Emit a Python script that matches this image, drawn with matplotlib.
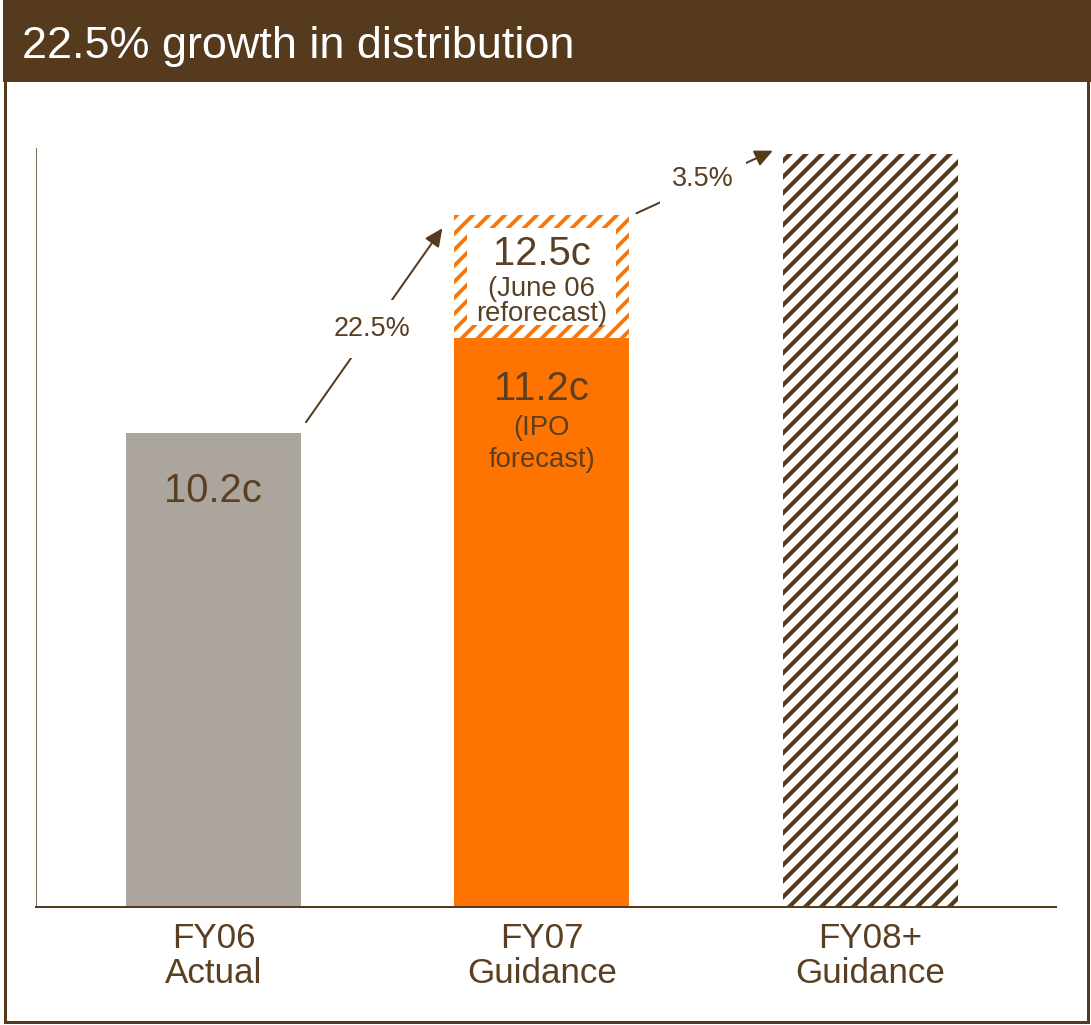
import matplotlib
matplotlib.use('Agg')
import matplotlib.pyplot as plt
import numpy as np
from matplotlib.patches import Rectangle

# ---------------- data ----------------
categories = ['FY06\nActual', 'FY07\nGuidance', 'FY08+\nGuidance']
fy06_actual = 10.2
fy07_ipo = 11.2
fy07_reforecast = 12.5
fy08_guidance = 13.15
value_labels = ['10.2c', '11.2c', '12.5c']
ipo_note = ['(IPO', 'forecast)']
june_note = ['(June 06', 'reforecast)']
growth_labels = ['22.5%', '3.5%']
title = '22.5% growth in distribution'

# ---------------- style ----------------
W, H = 1091, 1025
DPI = 48
S = 72.0 / DPI          # points per pixel
BROWN = '#553A1E'
TXT = '#5A3F22'
GRAY = '#ACA59D'
ORANGE = '#FF7300'

plt.rcParams['font.family'] = ['Liberation Sans', 'DejaVu Sans']
plt.rcParams['hatch.linewidth'] = 3.5 * S

fig = plt.figure(figsize=(W / DPI, H / DPI), dpi=DPI)
fig.patch.set_facecolor('white')


def fx(px):
    return px / W


def fy(py):
    return 1 - py / H


# title bar and frame
fig.patches.append(Rectangle((fx(3), fy(82)), fx(1091) - fx(3), fy(0) - fy(82),
                             transform=fig.transFigure, facecolor=BROWN,
                             edgecolor='none', zorder=0))
fig.patches.append(Rectangle((fx(4.5), fy(1022)), fx(1088) - fx(4.5), fy(80) - fy(1022),
                             transform=fig.transFigure, facecolor='none',
                             edgecolor=BROWN, lw=3 * S, zorder=0))
fig.text(fx(22), fy(58), title, color='white', fontsize=45 * S, va='baseline', ha='left')

ax = fig.add_axes([fx(36), fy(907), fx(1056) - fx(36), fy(148) - fy(907)])
ax.set_facecolor('none')

x = np.arange(len(categories))
w = 0.533

ax.set_xlim(-0.540, 2.565)
ax.set_ylim(5.2, 13.21)

ax.bar(x[0], fy06_actual, w, color=GRAY, lw=0, zorder=1)
ax.bar(x[1], fy07_ipo, w, color=ORANGE, lw=0, zorder=1)
with plt.rc_context({'hatch.linewidth': 3.8 * S}):
    ax.bar(x[1], fy07_reforecast - fy07_ipo, w, bottom=fy07_ipo, facecolor='white',
           edgecolor=ORANGE, lw=0, hatch='/', zorder=1)
# white interior of the reforecast box (13 px hatched frame)
px_per_x = (fx(1056) - fx(36)) * W / (2.565 + 0.540)
px_per_y = (fy(148) - fy(907)) * H / (13.21 - 5.2)
mx = 13 / px_per_x
my = 13 / px_per_y
ax.bar(x[1], fy07_reforecast - fy07_ipo - 2 * my, w - 2 * mx, bottom=fy07_ipo + my,
       facecolor='white', lw=0, zorder=1.5)
with plt.rc_context({'hatch.linewidth': 4.2 * S}):
    ax.bar(x[2], fy08_guidance, w, facecolor='white', edgecolor=BROWN, lw=0,
           hatch='/', zorder=1)

for s in ['top', 'right']:
    ax.spines[s].set_visible(False)
ax.spines['left'].set_color('#7d6a55')
ax.spines['left'].set_linewidth(1.0 * S)
ax.spines['bottom'].set_color(BROWN)
ax.spines['bottom'].set_linewidth(2.0 * S)

ax.set_yticks([])
ax.set_xticks(x)
ax.set_xticklabels(categories, fontsize=35 * S, color=TXT, linespacing=1.06)
ax.tick_params(axis='x', length=0, pad=15 * S)


def bar_text(xc, yv, text, dy, size):
    ax.annotate(text, xy=(xc, yv), xytext=(0, dy), textcoords='offset pixels',
                ha='center', va='baseline', fontsize=size * S, color=TXT, zorder=5)


bar_text(x[0], fy06_actual, value_labels[0], -69, 40)
bar_text(x[1], fy07_ipo, value_labels[1], -62, 40)
bar_text(x[1], fy07_ipo, ipo_note[0], -97, 27.5)
bar_text(x[1], fy07_ipo, ipo_note[1], -129, 27.5)
bar_text(x[1], fy07_reforecast, value_labels[2], -50, 40)
bar_text(x[1], fy07_reforecast, june_note[0], -81, 27.5)
bar_text(x[1], fy07_reforecast, june_note[1], -106, 27.5)

# growth arrows
T = ax.transData
b0_rt = T.transform((x[0] + w / 2, fy06_actual))
b1_lt = T.transform((x[1] - w / 2, fy07_reforecast))
b1_rt = T.transform((x[1] + w / 2, fy07_reforecast))
b2_lt = T.transform((x[2] - w / 2, fy08_guidance))

arrows = [
    (b0_rt + np.array([5, 11]), b1_lt + np.array([-12, -13]), growth_labels[0], (-2, -11), 0.6),
    (b1_rt + np.array([7, 2]), b2_lt + np.array([-10, 3]), growth_labels[1], (-2, -4), 0.45),
]
for start, end, lab, off, pad in arrows:
    ax.annotate('', xy=tuple(end), xytext=tuple(start), xycoords='figure pixels',
                textcoords='figure pixels',
                arrowprops=dict(arrowstyle='-|>,head_length=0.75,head_width=0.35',
                                mutation_scale=20 * S, color=BROWN, lw=2 * S,
                                shrinkA=0, shrinkB=0), zorder=3)
    mid = (start + end) / 2 + np.array(off)
    ax.annotate(lab, xy=tuple(mid), xycoords='figure pixels', ha='center',
                va='baseline', fontsize=27 * S, color=TXT, zorder=6,
                bbox=dict(boxstyle='square,pad=%s' % pad, facecolor='white',
                          edgecolor='none'))

fig.savefig('out.png', dpi=DPI, facecolor='white')
